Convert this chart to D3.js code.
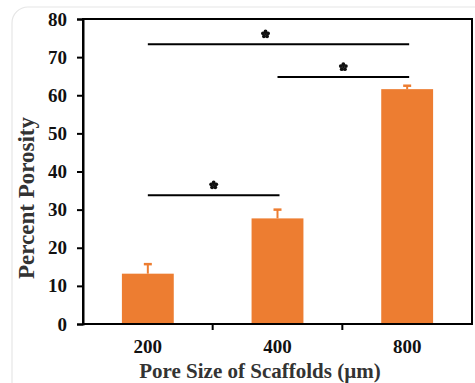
<!DOCTYPE html>
<html>
<head>
<meta charset="utf-8">
<script src="https://cdn.jsdelivr.net/npm/d3@7"></script>
<style>
  body { margin: 0; background: #fff; }
  svg { display: block; }
</style>
</head>
<body>
<svg id="chart" width="475" height="383"></svg>
<script>
// data
const categories = ["200", "400", "800"];
const porosity = [13.2, 27.7, 61.6];
const errors = [2.5, 2.3, 0.9];
const yTicks = [0, 10, 20, 30, 40, 50, 60, 70, 80];
// significance brackets: from category, to category, height
const brackets = [
    { from: "200", to: "800", y: 73.4 },
    { from: "400", to: "800", y: 64.8 },
    { from: "200", to: "400", y: 33.8 }
];

const svg = d3.select("#chart");
const W = 475, H = 383;
const margin = { top: 19, right: 3, bottom: 59, left: 83 };
const iw = W - margin.left - margin.right;
const ih = H - margin.top - margin.bottom;
const orange = "#ED7D31";
const serif = "'Liberation Serif', 'Times New Roman', serif";

// faint card outline
svg.append("rect")
    .attr("x", 12).attr("y", 7)
    .attr("width", W + 20).attr("height", H + 20)
    .attr("rx", 16)
    .attr("fill", "none")
    .attr("stroke", "#e6e6e6")
    .attr("stroke-width", 1.2);

const g = svg.append("g").attr("transform", `translate(${margin.left},${margin.top})`);

const x = d3.scaleBand().domain(categories).range([0, iw]).padding(0);
const y = d3.scaleLinear().domain([0, 80]).range([ih, 0]);
const barW = x.bandwidth() * 0.4;

// bars
g.selectAll("rect.bar")
    .data(categories)
    .enter().append("rect")
    .attr("class", "bar")
    .attr("x", d => x(d) + (x.bandwidth() - barW) / 2)
    .attr("y", (d, i) => y(porosity[i]))
    .attr("width", barW)
    .attr("height", (d, i) => y(0) - y(porosity[i]))
    .attr("fill", orange);

// error bars (upper only)
categories.forEach((c, i) => {
    const cx = x(c) + x.bandwidth() / 2;
    g.append("line")
        .attr("x1", cx).attr("x2", cx)
        .attr("y1", y(porosity[i])).attr("y2", y(porosity[i] + errors[i]))
        .attr("stroke", orange).attr("stroke-width", 2);
    g.append("line")
        .attr("x1", cx - 4).attr("x2", cx + 4)
        .attr("y1", y(porosity[i] + errors[i])).attr("y2", y(porosity[i] + errors[i]))
        .attr("stroke", orange).attr("stroke-width", 2.5);
});

// frame
g.append("rect")
    .attr("x", 0).attr("y", 0)
    .attr("width", iw).attr("height", ih)
    .attr("fill", "none")
    .attr("stroke", "#000")
    .attr("stroke-width", 2);

// y axis
const yAxis = g.append("g")
    .call(d3.axisLeft(y).tickValues(yTicks).tickSize(6).tickPadding(10));
yAxis.select(".domain").attr("stroke-width", 2);
yAxis.selectAll(".tick line").attr("stroke-width", 2);
yAxis.selectAll("text")
    .attr("font-family", serif)
    .attr("font-weight", "bold")
    .attr("font-size", 19)
    .attr("fill", "#111");

// x axis: ticks at category boundaries, labels at centers
const xAxis = g.append("g").attr("transform", `translate(0,${ih})`);
xAxis.append("line")
    .attr("x1", 0).attr("x2", iw).attr("y1", 0).attr("y2", 0)
    .attr("stroke", "#000").attr("stroke-width", 2);
categories.slice(1).forEach(c => {
    xAxis.append("line")
        .attr("x1", x(c)).attr("x2", x(c))
        .attr("y1", 0).attr("y2", 6)
        .attr("stroke", "#000").attr("stroke-width", 2);
});
xAxis.selectAll("text.cat")
    .data(categories)
    .enter().append("text")
    .attr("class", "cat")
    .attr("x", d => x(d) + x.bandwidth() / 2)
    .attr("y", 29)
    .attr("text-anchor", "middle")
    .attr("font-family", serif)
    .attr("font-weight", "bold")
    .attr("font-size", 19)
    .attr("fill", "#111")
    .text(d => d);

// significance brackets with a five-lobed mark
const lobes = d3.range(5).map(k => -Math.PI / 2 + k * 2 * Math.PI / 5);
brackets.forEach((b, i) => {
    const x1 = x(b.from) + x.bandwidth() / 2;
    const x2 = x(b.to) + x.bandwidth() / 2 + 2;
    const yy = y(b.y);
    g.append("line")
        .attr("x1", x1).attr("x2", x2)
        .attr("y1", yy).attr("y2", yy)
        .attr("stroke", "#000").attr("stroke-width", 2);
    // the long bracket's mark sits a bit left of its middle
    const mx = i === 0 ? (x1 + x2) / 2 - 13 : (x1 + x2) / 2;
    const mark = g.append("g")
        .attr("transform", `translate(${mx},${yy - 10})`);
    mark.selectAll("circle")
        .data(lobes)
        .enter().append("circle")
        .attr("cx", a => 2.7 * Math.cos(a))
        .attr("cy", a => 2.7 * Math.sin(a))
        .attr("r", 1.9)
        .attr("fill", "#111");
    mark.append("circle").attr("r", 1.3).attr("fill", "#111");
});

// axis titles
svg.append("text")
    .attr("transform", `translate(34,198) rotate(-90)`)
    .attr("text-anchor", "middle")
    .attr("font-family", serif)
    .attr("font-weight", "bold")
    .attr("font-size", 23)
    .attr("fill", "#333")
    .text("Percent Porosity");

svg.append("text")
    .attr("x", 260)
    .attr("y", 378)
    .attr("text-anchor", "middle")
    .attr("font-family", serif)
    .attr("font-weight", "bold")
    .attr("font-size", 21)
    .attr("fill", "#333")
    .text("Pore Size of Scaffolds (µm)");
</script>
</body>
</html>
